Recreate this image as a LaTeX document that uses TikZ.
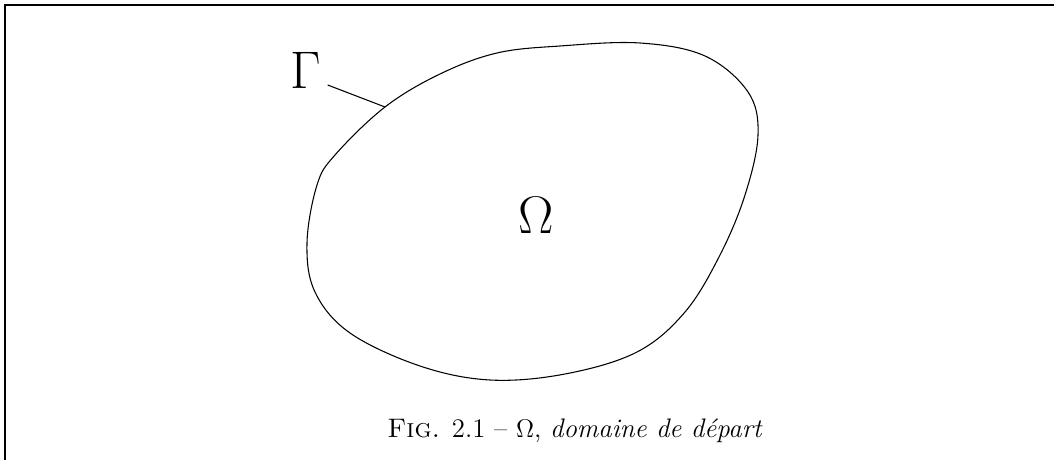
\documentclass[tikz,border=0pt]{standalone}
\usepackage{amsmath}
\usepackage{amssymb}
\usepackage{tikz}
\usetikzlibrary{positioning,calc}

\begin{document}
\begin{tikzpicture}[
    x=0.47pt,y=-0.47pt,
    frame/.style={line width=1pt},
    bord/.style={line width=0.5pt},
    biglabel/.style={inner sep=0pt, font=\fontsize{31}{37}\selectfont}
]
    \useasboundingbox (0,0) rectangle (1054,460);
    % Frame (top and left only)
    \draw[frame] (5,460) -- (5,5) -- (1054,5);

    % Domain boundary
    \draw[bord] plot[smooth cycle, tension=0.6] coordinates {
        (560,46) (640,43) (705,56) (748,92) (758,135) (745,195)
        (720,255) (685,312) (637,352) (565,374) (490,380) (420,366)
        (350,333) (315,292) (307,243) (317,185) (335,155) (385,107)
        (440,74) (497,53)};

    % Labels
    \node[biglabel] (Omega) at (536,215) {$\Omega$};
    \node[biglabel] (Gamma) at (306,70) {$\Gamma$};
    \coordinate (Gfoot) at (385,107);
    \draw[bord] ($(Gamma.east)+(6,15)$) -- (Gfoot);

    % Caption
    \node[anchor=base, font=\fontsize{12.6}{15}\selectfont] (cap) at (575,438)
        {\textsc{Fig.} 2.1 -- $\Omega$, \textit{domaine de départ}};
\end{tikzpicture}
\end{document}
